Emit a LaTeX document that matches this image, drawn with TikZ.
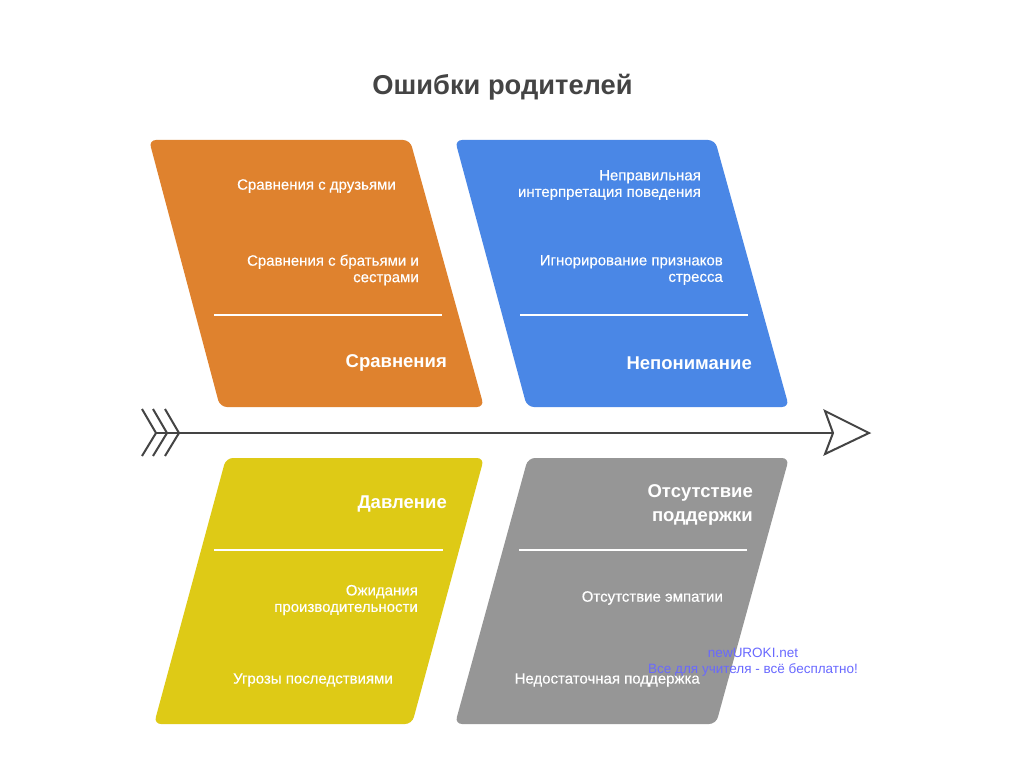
\documentclass[tikz,border=0pt]{standalone}
\usepackage{fontspec}
\setmainfont{Liberation Sans}
\newfontfamily\medfont[FakeBold=0.35]{Liberation Sans}
\definecolor{corange}{RGB}{223,130,46}
\definecolor{cblue}{RGB}{74,135,230}
\definecolor{cyellow}{RGB}{222,202,22}
\definecolor{cgray}{RGB}{150,150,150}
\definecolor{cdark}{RGB}{68,68,68}
\definecolor{cwater}{RGB}{105,105,255}
\begin{document}
\begin{tikzpicture}[x=1pt,y=-1pt,
  item/.style={anchor=east,inner sep=0pt,align=right,text=white,font=\medfont\fontsize{15}{16.5}\selectfont},
  head/.style={anchor=east,inner sep=0pt,align=right,text=white,font=\bfseries\fontsize{18.5}{24}\selectfont},
  panel/.style={rounded corners=7pt},
  divider/.style={draw=white,line width=1.5pt},
  spine/.style={draw=cdark,line width=2pt},
  water/.style={inner sep=0pt,text=cwater,font=\fontsize{13.5}{15}\selectfont}]
\fill[white] (0,0) rectangle (1024,767);
\useasboundingbox (0,0) rectangle (1024,767);

% title
\node[inner sep=0pt,text=cdark,font=\bfseries\fontsize{27.3}{30}\selectfont] (title) at (502.5,87) {Ошибки родителей};

% panels
\fill[corange,panel] (149,140) -- (410,140) -- (484,407) -- (220,407) -- cycle;
\fill[cblue,panel]   (455,140) -- (715,140) -- (789,407) -- (527,407) -- cycle;
\fill[cyellow,panel] (226,458) -- (484,458) -- (412,724) -- (154,724) -- cycle;
\fill[cgray,panel]   (528,458) -- (789,458) -- (716,724) -- (455,724) -- cycle;

% dividers
\draw[divider] (214,315) -- (442,315);
\draw[divider] (520,315) -- (748,315);
\draw[divider] (214,550) -- (443,550);
\draw[divider] (519,550) -- (747,550);

% orange texts
\node[item] (o1) at (396,186) {Сравнения с друзьями};
\node[item] (o2) at (419,270) {Сравнения с братьями и\\сестрами};
\node[head] (oT) at (447,363) {Сравнения};

% blue texts
\node[item] (b1) at (701,185) {Неправильная\hspace{4pt}\\интерпретация поведения};
\node[item] (b2) at (723,270) {Игнорирование признаков\hspace{2pt}\\стресса};
\node[head] (bT) at (752,363) {Непонимание};

% yellow texts
\node[head] (yT) at (447,504) {Давление};
\node[item] (y1) at (418,600) {Ожидания\hspace{5pt}\\производительности};
\node[item] (y2) at (393,680) {Угрозы последствиями};

% gray texts
\node[head] (gT) at (753,505) {Отсутствие\hspace{5pt}\\поддержки};
\node[item] (g1) at (723,598) {Отсутствие эмпатии};
\node[item] (g2) at (700,680) {Недостаточная поддержка};

% spine
\coordinate (tail) at (156,433);
\coordinate (notch) at (833,433);
\draw[spine] (tail) -- (notch);
\draw[spine,line join=miter] (825,411) -- (869,433) -- (825,454) -- (notch) -- cycle;
\draw[spine] (142,409) -- (156,433) -- (142,456);
\draw[spine] (153,409) -- (167,433) -- (153,456);
\draw[spine] (165,409) -- (179,433) -- (165,456);

% watermark
\node[water] (w1) at (753,653) {newUROKI.net};
\node[water] (w2) at (753,670) {Все для учителя - всё бесплатно!};
\end{tikzpicture}
\end{document}
